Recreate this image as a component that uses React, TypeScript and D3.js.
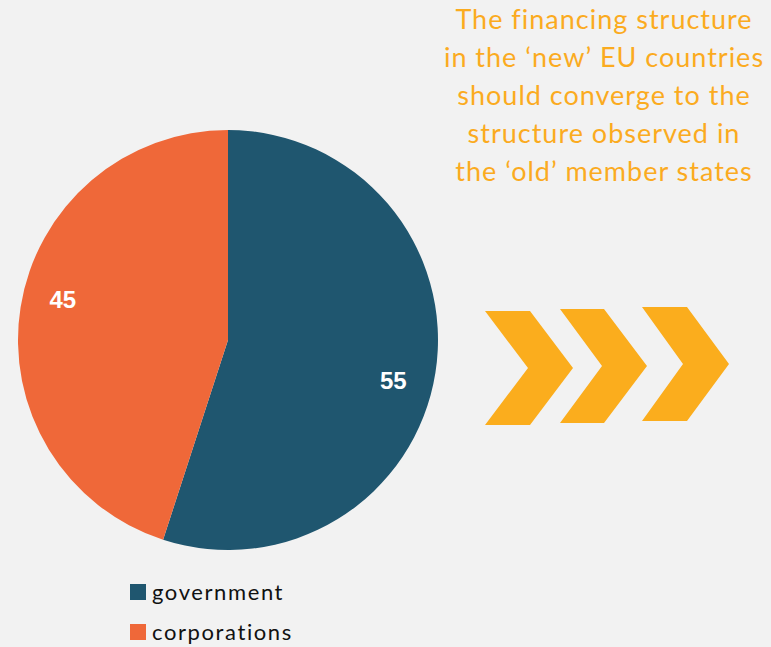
import { useEffect, useRef } from 'react';
import * as d3 from 'd3';

const categories = ['government', 'corporations'];
const shares = [55, 45];
const colors = ['#1f566f', '#ef6839'];
const noteLines = [
  'The financing structure',
  'in the \u2018new\u2019 EU countries',
  'should converge to the',
  'structure observed in',
  'the \u2018old\u2019 member states',
];

const W = 771;
const H = 647;

const App = () => {
  const svgRef = useRef<SVGSVGElement | null>(null);

  useEffect(() => {
    const svg = d3.select(svgRef.current);
    svg.selectAll('*').remove();

    svg.append('rect').attr('width', W).attr('height', H).attr('fill', '#f2f2f2');

    const cx = 228, cy = 340, radius = 210;
    const data = categories.map((c, i) => ({ name: c, value: shares[i], color: colors[i] }));
    const pie = d3.pie<any>().sort(null).value(d => d.value);
    const arc = d3.arc<any>().innerRadius(0).outerRadius(radius);

    const g = svg.append('g').attr('transform', `translate(${cx},${cy})`);
    const arcs = pie(data);
    g.selectAll('path')
      .data(arcs)
      .join('path')
      .attr('d', arc)
      .attr('fill', d => d.data.color);

    // labels sit a little clockwise of the slice middle, like the original
    const shift = (4.7 * Math.PI) / 180;
    const lr = radius * 0.81;
    g.selectAll('text')
      .data(arcs)
      .join('text')
      .attr('transform', d => {
        const a = (d.startAngle + d.endAngle) / 2 + shift;
        return `translate(${Math.sin(a) * lr},${-Math.cos(a) * lr})`;
      })
      .attr('text-anchor', 'middle')
      .attr('dy', '0.35em')
      .attr('fill', '#fff')
      .style('font-family', '"Liberation Sans", Arial, sans-serif')
      .style('font-weight', 'bold')
      .style('font-size', '24px')
      .text(d => d.data.value);

    // legend
    const legend = svg.append('g').attr('transform', 'translate(130,584)');
    data.forEach((d, i) => {
      const row = legend.append('g').attr('transform', `translate(0,${i * 40})`);
      row.append('rect').attr('width', 16).attr('height', 16).attr('fill', d.color);
      row.append('text')
        .attr('x', 22)
        .attr('y', 16)
        .attr('fill', '#111')
        .style('font-family', 'Lato, "Open Sans", sans-serif')
        .style('font-size', '22px')
        .style('letter-spacing', '1.6px')
        .text(d.name);
    });

    // note text
    svg.append('g')
      .selectAll('text')
      .data(noteLines)
      .join('text')
      .attr('x', 604)
      .attr('y', (_, i) => 29 + i * 38)
      .attr('text-anchor', 'middle')
      .attr('fill', '#fbab1f')
      .style('font-family', 'Lato, "Open Sans", sans-serif')
      .style('font-size', '27px')
      .style('letter-spacing', '1px')
      .text(d => d);

    // chevrons
    const chevrons = [
      { x: 485, top: 311, bottom: 425, w: 45, tip: 43, notch: 43 },
      { x: 560, top: 309, bottom: 423, w: 44, tip: 43, notch: 42 },
      { x: 642, top: 307, bottom: 421, w: 45, tip: 42, notch: 41 },
    ];
    svg.append('g')
      .selectAll('path')
      .data(chevrons)
      .join('path')
      .attr('fill', '#fbad1d')
      .attr('d', c => {
        const mid = (c.top + c.bottom) / 2;
        const p = d3.path();
        p.moveTo(c.x, c.top);
        p.lineTo(c.x + c.w, c.top);
        p.lineTo(c.x + c.w + c.tip, mid);
        p.lineTo(c.x + c.w, c.bottom);
        p.lineTo(c.x, c.bottom);
        p.lineTo(c.x + c.notch, mid);
        p.closePath();
        return p.toString();
      });
  }, []);

  return <svg ref={svgRef} width={W} height={H} style={{ position: 'absolute', left: 0, top: 0 }} />;
};

export default App;
